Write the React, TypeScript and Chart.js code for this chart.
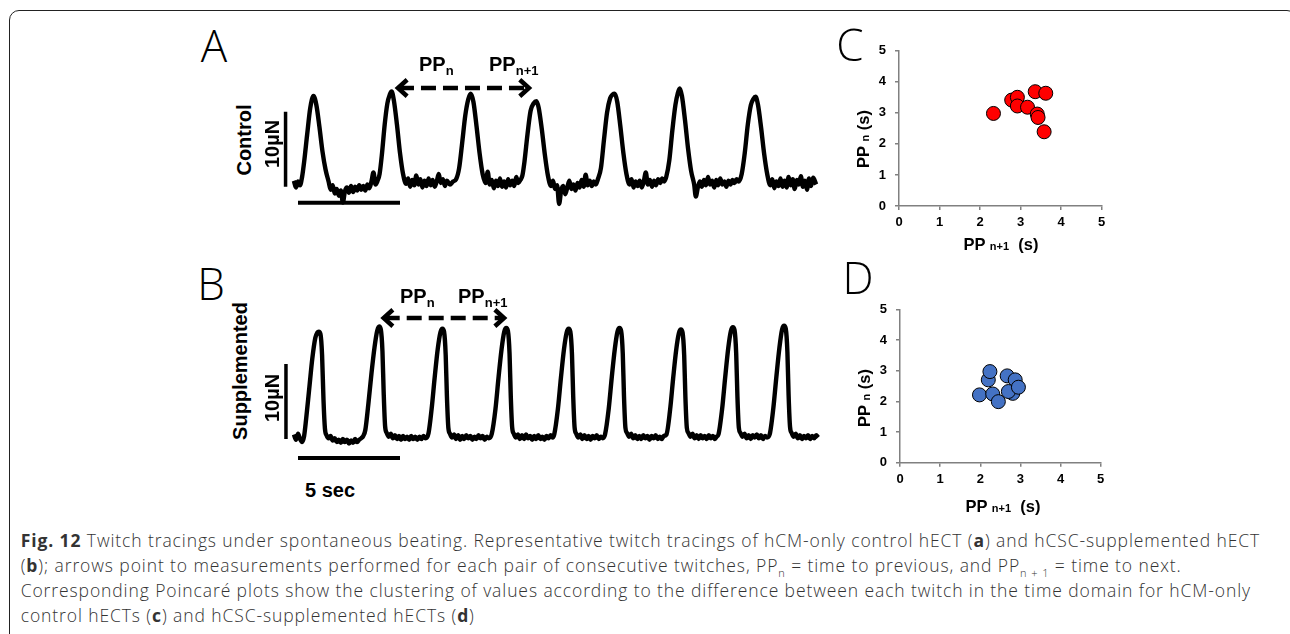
import React, { useEffect, useRef } from "react";
import { Chart, registerables } from "chart.js";
Chart.register(...registerables);

const SANS = "'Liberation Sans', Arial, Helvetica, sans-serif";
const CAPTION_FONT = "'Open Sans', 'Noto Sans', sans-serif";

// ---------- Data ----------
// Panel A: control hECT twitch trace, [time (s), force (µN)]
const controlTrace: [number, number][] = [
  [-0.2,0.3],[-0.1,-0.6],[0.0,0.2],[0.1,-0.3],[0.2,0.8],[0.3,2.8],[0.45,6.5],[0.6,10.0],[0.76,11.6],[0.9,10.4],[1.05,7.5],[1.2,4.2],[1.35,1.8],[1.5,0.2],[1.6,-0.9],[1.7,-0.3],[1.8,-1.4],[1.9,-0.8],[2.0,-1.7],[2.1,-1.0],[2.2,-2.6],[2.3,-1.1],[2.4,-0.6],[2.5,-1.3],[2.6,-0.4],[2.7,-1.2],[2.8,-0.5],[2.9,-1.0],[3.0,-0.3],[3.1,-0.9],[3.2,-0.4],[3.3,-1.0],[3.4,-0.2],[3.5,-0.7],[3.6,0.2],[3.7,1.4],[3.8,-0.2],[3.9,0.3],[4.0,1.2],[4.12,4.0],[4.25,7.8],[4.38,10.6],[4.5,11.8],[4.59,12.2],[4.7,11.0],[4.85,7.8],[5.0,4.0],[5.15,1.2],[5.3,-0.1],[5.4,0.6],[5.5,-0.5],[5.6,0.4],[5.7,-0.3],[5.8,1.0],[5.9,-0.2],[6.0,0.5],[6.1,-0.6],[6.2,0.3],[6.3,-0.4],[6.4,0.6],[6.5,-0.3],[6.6,0.4],[6.7,-0.5],[6.8,0.2],[6.9,1.2],[7.0,0.0],[7.1,0.5],[7.2,-0.4],[7.3,0.3],[7.45,-0.2],[7.6,0.2],[7.75,0.5],[7.9,2.0],[8.05,5.4],[8.2,9.0],[8.35,11.2],[8.47,11.9],[8.6,10.8],[8.75,7.6],[8.9,4.0],[9.05,1.2],[9.2,0.0],[9.3,1.5],[9.4,-0.2],[9.5,0.4],[9.6,-0.7],[9.7,0.3],[9.8,-0.4],[9.9,0.6],[10.0,-0.5],[10.1,0.2],[10.2,-0.6],[10.3,0.5],[10.4,-0.3],[10.5,0.3],[10.6,-0.4],[10.7,0.8],[10.8,0.0],[10.9,0.4],[11.0,1.0],[11.1,2.8],[11.25,6.5],[11.4,9.6],[11.55,10.6],[11.69,10.9],[11.8,10.0],[11.95,7.2],[12.1,3.8],[12.25,1.0],[12.4,-0.4],[12.5,0.3],[12.6,-0.8],[12.7,-0.3],[12.8,-2.8],[12.9,-1.0],[13.0,-0.4],[13.1,-1.5],[13.2,-0.6],[13.3,0.3],[13.4,-0.8],[13.5,-0.2],[13.6,-1.0],[13.7,0.0],[13.8,-0.6],[13.9,0.4],[14.0,-0.5],[14.1,1.1],[14.2,-0.3],[14.3,0.3],[14.4,-0.4],[14.5,0.2],[14.6,-0.2],[14.7,0.5],[14.85,2.0],[15.0,5.8],[15.15,9.4],[15.3,11.3],[15.42,11.8],[15.53,11.9],[15.65,10.8],[15.8,7.6],[15.95,4.0],[16.1,1.2],[16.25,-0.2],[16.35,0.5],[16.45,-0.6],[16.55,0.2],[16.65,-0.4],[16.75,0.3],[16.85,-0.6],[16.95,0.2],[17.05,1.4],[17.15,-0.2],[17.25,0.4],[17.35,-0.5],[17.45,0.3],[17.55,-0.3],[17.65,0.5],[17.75,0.0],[17.85,0.6],[17.95,0.2],[18.05,0.8],[18.2,3.0],[18.35,7.0],[18.5,10.4],[18.62,12.0],[18.71,12.6],[18.82,11.6],[18.97,8.4],[19.12,4.6],[19.27,1.6],[19.42,-0.2],[19.5,-1.8],[19.6,-0.6],[19.7,0.2],[19.8,-0.5],[19.9,0.4],[20.0,-0.3],[20.1,0.8],[20.2,-0.2],[20.3,0.3],[20.4,-0.6],[20.5,0.4],[20.6,-0.3],[20.7,0.6],[20.8,-0.2],[20.9,0.2],[21.0,-0.5],[21.1,0.3],[21.2,-0.2],[21.3,0.4],[21.4,0.0],[21.5,0.5],[21.6,0.2],[21.75,1.2],[21.9,4.0],[22.05,7.8],[22.2,10.4],[22.32,11.2],[22.43,11.5],[22.55,10.4],[22.7,7.4],[22.85,3.9],[23.0,1.2],[23.15,-0.3],[23.25,0.5],[23.35,-0.7],[23.45,0.2],[23.55,-0.4],[23.65,0.6],[23.75,-0.5],[23.85,0.3],[23.95,-0.6],[24.05,0.8],[24.15,-0.3],[24.25,0.5],[24.35,-0.8],[24.45,0.4],[24.55,-0.2],[24.65,0.9],[24.75,-0.5],[24.85,0.3],[24.95,-0.9],[25.05,0.6],[25.15,-0.4],[25.25,0.7],[25.4,-0.2]
];

// Panel B: hCSC-supplemented hECT twitch trace, [time (s), force (µN)]
const supplementedTrace: [number, number][] = [
  [-0.2,0.4],[-0.1,-0.3],[0.0,0.5],[0.1,-0.2],[0.2,-0.6],[0.3,0.2],[0.4,2.5],[0.55,6.5],[0.7,10.5],[0.85,13.3],[0.95,14.0],[1.02,14.1],[1.1,13.8],[1.18,11.0],[1.25,5.0],[1.32,1.2],[1.4,0.3],[1.5,-0.1],[1.6,0.2],[1.7,-0.4],[1.8,-0.1],[1.9,-0.6],[2.0,-0.3],[2.1,-0.7],[2.2,-0.2],[2.3,-0.6],[2.4,-0.3],[2.5,-0.8],[2.6,-0.4],[2.7,-0.7],[2.8,-0.2],[2.9,-0.6],[3.0,-0.3],[3.1,-0.1],[3.2,0.2],[3.3,1.0],[3.45,4.5],[3.6,8.5],[3.75,12.0],[3.88,14.2],[3.98,14.8],[4.06,14.4],[4.14,11.5],[4.2,6.0],[4.27,1.5],[4.35,0.6],[4.45,0.1],[4.55,0.5],[4.65,-0.1],[4.75,0.3],[4.85,-0.2],[4.95,0.2],[5.05,-0.3],[5.15,0.2],[5.25,-0.2],[5.35,0.1],[5.45,-0.3],[5.55,0.2],[5.65,-0.2],[5.75,0.1],[5.85,-0.3],[5.95,0.1],[6.05,-0.2],[6.15,0.2],[6.25,-0.1],[6.4,0.6],[6.55,3.8],[6.7,8.0],[6.85,11.8],[6.98,14.0],[7.08,14.5],[7.16,14.1],[7.24,11.0],[7.3,5.5],[7.37,1.3],[7.45,0.5],[7.55,0.0],[7.65,0.4],[7.75,-0.2],[7.85,0.3],[7.95,-0.3],[8.05,0.2],[8.15,-0.2],[8.25,0.3],[8.35,-0.1],[8.45,0.2],[8.55,-0.3],[8.65,0.1],[8.75,-0.2],[8.85,0.3],[8.95,-0.1],[9.05,0.2],[9.15,-0.3],[9.25,0.1],[9.35,-0.1],[9.5,0.5],[9.68,3.8],[9.83,8.0],[9.98,11.8],[10.11,14.1],[10.21,14.6],[10.29,14.2],[10.37,11.2],[10.43,5.5],[10.5,1.3],[10.58,0.5],[10.68,0.0],[10.78,0.4],[10.88,-0.2],[10.98,0.3],[11.08,-0.2],[11.18,0.4],[11.28,-0.1],[11.38,0.2],[11.48,-0.3],[11.58,0.2],[11.68,-0.2],[11.78,0.3],[11.88,-0.2],[11.98,0.1],[12.08,-0.3],[12.18,0.2],[12.28,-0.1],[12.38,0.3],[12.48,0.0],[12.56,0.4],[12.74,3.8],[12.89,8.0],[13.04,11.8],[13.17,14.0],[13.27,14.5],[13.35,14.1],[13.43,11.1],[13.49,5.5],[13.56,1.3],[13.64,0.5],[13.74,0.0],[13.84,0.4],[13.94,-0.2],[14.04,0.3],[14.14,-0.2],[14.24,0.2],[14.34,-0.3],[14.44,0.2],[14.54,-0.1],[14.64,0.3],[14.74,-0.2],[14.84,0.1],[14.94,-0.1],[15.05,0.4],[15.23,3.8],[15.38,8.0],[15.53,11.8],[15.66,14.1],[15.76,14.6],[15.84,14.2],[15.92,11.2],[15.98,5.5],[16.05,1.3],[16.13,0.6],[16.23,0.1],[16.33,0.5],[16.43,-0.1],[16.53,0.3],[16.63,-0.2],[16.73,0.2],[16.83,-0.2],[16.93,0.3],[17.03,-0.1],[17.13,0.2],[17.23,-0.3],[17.33,0.2],[17.43,-0.1],[17.53,0.3],[17.63,-0.2],[17.73,0.1],[17.83,-0.2],[17.93,0.2],[18.06,0.4],[18.24,3.7],[18.39,7.9],[18.54,11.7],[18.67,13.9],[18.77,14.4],[18.85,14.0],[18.93,11.0],[18.99,5.4],[19.06,1.3],[19.14,0.6],[19.24,0.1],[19.34,0.5],[19.44,-0.1],[19.54,0.3],[19.64,-0.2],[19.74,0.3],[19.84,-0.1],[19.94,0.2],[20.04,-0.2],[20.14,0.3],[20.24,-0.1],[20.34,0.2],[20.44,-0.2],[20.52,0.1],[20.61,0.4],[20.79,3.8],[20.94,8.0],[21.09,11.9],[21.22,14.2],[21.32,14.7],[21.4,14.3],[21.48,11.2],[21.54,5.5],[21.61,1.3],[21.69,0.6],[21.79,0.1],[21.89,0.5],[21.99,-0.1],[22.09,0.3],[22.19,-0.2],[22.29,0.3],[22.39,0.0],[22.49,0.4],[22.59,-0.1],[22.69,0.3],[22.79,-0.2],[22.89,0.2],[22.99,0.0],[23.12,0.4],[23.3,3.9],[23.45,8.1],[23.6,12.0],[23.73,14.4],[23.83,14.9],[23.91,14.5],[23.99,11.4],[24.05,5.6],[24.12,1.4],[24.2,0.6],[24.3,0.1],[24.4,0.5],[24.5,-0.1],[24.6,0.3],[24.7,-0.2],[24.8,0.2],[24.9,-0.1],[25.0,0.3],[25.1,-0.2],[25.2,0.2],[25.3,-0.1],[25.4,0.3],[25.5,0.0]
];

// PPn / PPn+1 arrows (time span, s) and their level (µN)
const controlArrow = [4.9, 11.32];
const controlArrowLevel = 12.67;
const supplementedArrow = [4.2, 10.1];
const supplementedArrowLevel = 15.93;

// Scale bars
const scaleBarForce = 10; // µN
const scaleBarTime = 5; // s

// Panel C: Poincaré plot, control (s)
const controlPPnext = [2.33, 2.78, 2.92, 2.92, 3.17, 3.36, 3.62, 3.41, 3.43, 3.58];
const controlPPn = [2.98, 3.41, 3.5, 3.22, 3.18, 3.68, 3.63, 2.96, 2.85, 2.39];

// Panel D: Poincaré plot, supplemented (s)
const suppPPnext = [1.98, 2.2, 2.24, 2.31, 2.45, 2.67, 2.87, 2.81, 2.7, 2.95];
const suppPPn = [2.21, 2.7, 2.97, 2.24, 1.99, 2.83, 2.7, 2.26, 2.32, 2.46];

const poincareTicks = [0, 1, 2, 3, 4, 5];

// ---------- Chart configs ----------
function traceConfig(
  trace: [number, number][],
  g: { xMin: number; xMax: number; yMin: number; yMax: number; vBarT: number; vBarF0: number; hBarF: number },
  arrow: number[],
  arrowLevel: number
): any {
  const line = (pts: { x: number; y: number }[], extra: any = {}) => ({
    data: pts,
    borderColor: "#000",
    borderWidth: 4,
    pointRadius: 0,
    fill: false,
    clip: false,
    ...extra,
  });
  const chevW = 0.45;
  const chevH = 1.1;
  return {
    type: "line",
    data: {
      datasets: [
        line(trace.map(([x, y]) => ({ x, y })), { borderWidth: 4.4, cubicInterpolationMode: "monotone", borderJoinStyle: "round" }),
        line([{ x: g.vBarT, y: g.vBarF0 }, { x: g.vBarT, y: g.vBarF0 + scaleBarForce }], { borderWidth: 3.5 }),
        line([{ x: 0, y: g.hBarF }, { x: scaleBarTime, y: g.hBarF }], { borderWidth: 4 }),
        line([{ x: arrow[0] + 0.05, y: arrowLevel }, { x: arrow[1] - 0.05, y: arrowLevel }], { borderWidth: 4.5, borderDash: [15, 7] }),
        line([{ x: arrow[0] + chevW, y: arrowLevel + chevH }, { x: arrow[0], y: arrowLevel }, { x: arrow[0] + chevW, y: arrowLevel - chevH }], { borderWidth: 4.5, borderJoinStyle: "miter" }),
        line([{ x: arrow[1] - chevW, y: arrowLevel + chevH }, { x: arrow[1], y: arrowLevel }, { x: arrow[1] - chevW, y: arrowLevel - chevH }], { borderWidth: 4.5, borderJoinStyle: "miter" }),
      ],
    },
    options: {
      responsive: false,
      animation: false,
      devicePixelRatio: 1,
      layout: { padding: 0 },
      plugins: { legend: { display: false }, tooltip: { enabled: false } },
      scales: {
        x: { type: "linear", min: g.xMin, max: g.xMax, display: false },
        y: { type: "linear", min: g.yMin, max: g.yMax, display: false },
      },
    },
  };
}

function scatterConfig(xs: number[], ys: number[], color: string, g: { yAxisW: number; xAxisH: number; padTop: number; padRight: number }): any {
  const tickFont = { family: SANS, size: 13, weight: "bold" as const };
  const axis = (isX: boolean) => ({
    type: "linear",
    min: 0,
    max: 5,
    afterBuildTicks: (s: any) => {
      s.ticks = poincareTicks.map((v) => ({ value: v }));
    },
    ticks: { font: tickFont, color: "#000", padding: isX ? 5 : 9, autoSkip: false, maxRotation: 0 },
    grid: { drawOnChartArea: false, drawTicks: true, tickLength: 4, color: "#808080", lineWidth: 1.5 },
    border: { display: true, color: "#808080", width: 1.5 },
    afterFit: (s: any) => {
      if (isX) s.height = g.xAxisH;
      else s.width = g.yAxisW;
    },
  });
  return {
    type: "scatter",
    data: {
      datasets: [
        {
          data: xs.map((x, i) => ({ x, y: ys[i] })),
          backgroundColor: color,
          borderColor: "#000",
          borderWidth: 1,
          pointRadius: 7,
          pointHoverRadius: 7,
        },
      ],
    },
    options: {
      responsive: false,
      animation: false,
      devicePixelRatio: 1,
      layout: { padding: { top: g.padTop, right: g.padRight, bottom: 0, left: 0 } },
      plugins: { legend: { display: false }, tooltip: { enabled: false } },
      scales: { x: axis(true), y: axis(false) },
    },
  };
}

function ChartCanvas({ left, top, width, height, make }: { left: number; top: number; width: number; height: number; make: () => any }) {
  const ref = useRef<HTMLCanvasElement>(null);
  useEffect(() => {
    const chart = new Chart(ref.current as HTMLCanvasElement, make());
    return () => chart.destroy();
  }, []);
  return (
    <canvas
      ref={ref}
      width={width}
      height={height}
      style={{ position: "absolute", left, top, width, height, display: "block" }}
    />
  );
}

// ---------- Text helpers ----------
const Label = ({ cx, cy, size, rotate, children, weight = 700, family = SANS }: any) => (
  <div
    style={{
      position: "absolute",
      left: cx,
      top: cy,
      transform: `translate(-50%, -50%)${rotate ? " rotate(-90deg)" : ""}`,
      fontFamily: family,
      fontWeight: weight,
      fontSize: size,
      lineHeight: 1,
      whiteSpace: "nowrap",
      color: "#000",
    }}
  >
    {children}
  </div>
);

const PanelLetter = ({ cx, cy, children }: any) => (
  <Label cx={cx} cy={cy} size={44} weight={300} family={CAPTION_FONT}>
    {children}
  </Label>
);

const PP = ({ left, cy, sub }: any) => (
  <div
    style={{
      position: "absolute",
      left,
      top: cy,
      transform: "translateY(-50%)",
      fontFamily: SANS,
      fontWeight: 700,
      fontSize: 20,
      lineHeight: 1,
      whiteSpace: "nowrap",
    }}
  >
    PP<span style={{ fontSize: 13, position: "relative", top: 4 }}>{sub}</span>
  </div>
);

const AxisTitle = ({ cx, cy, sub, rotate }: any) => (
  <Label cx={cx} cy={cy} size={16.5} rotate={rotate}>
    PP <span style={{ fontSize: 11 }}>{sub}</span>
    {sub.length > 1 ? "\u00a0 " : " "}(s)
  </Label>
);

const Bd = ({ children }: any) => <span style={{ fontWeight: 700 }}>{children}</span>;

const captionLines: any[] = [
  <>
    <Bd>Fig. 12</Bd> Twitch tracings under spontaneous beating. Representative twitch tracings of hCM-only control hECT (<Bd>a</Bd>) and hCSC-supplemented hECT
  </>,
  <>
    (<Bd>b</Bd>); arrows point to measurements performed for each pair of consecutive twitches, PP<sub style={{ fontSize: 11 }}>n</sub> = time to previous, and PP
    <sub style={{ fontSize: 11 }}>n + 1</sub> = time to next.
  </>,
  <>Corresponding Poincaré plots show the clustering of values according to the difference between each twitch in the time domain for hCM-only</>,
  <>
    control hECTs (<Bd>c</Bd>) and hCSC-supplemented hECTs (<Bd>d</Bd>)
  </>,
];

export default function App() {
  const pxPerSec = 20.4;
  const t0x = 298;
  const traceLeft = 270;
  const traceW = 560;
  const xMin = (traceLeft - t0x) / pxPerSec;
  const xMax = (traceLeft + traceW - t0x) / pxPerSec;
  const pxPerUN = 7.5;

  const aTop = 60, aH = 160, aBase = 183;
  const bTop = 285, bH = 190, bBase = 437.5;

  return (
    <div style={{ position: "absolute", left: 0, top: 0, width: 1290, height: 634, overflow: "hidden", background: "#fff" }}>
      <div
        style={{
          position: "absolute",
          left: 9,
          top: 10,
          width: 1288,
          height: 700,
          border: "1.5px solid #222",
          borderRadius: 10,
          boxSizing: "border-box",
        }}
      />

      <ChartCanvas
        left={traceLeft}
        top={aTop}
        width={traceW}
        height={aH}
        make={() =>
          traceConfig(
            controlTrace,
            {
              xMin,
              xMax,
              yMax: (aBase - aTop) / pxPerUN,
              yMin: -(aTop + aH - aBase) / pxPerUN,
              vBarT: -0.61,
              vBarF0: -0.5,
              hBarF: -2.63,
            },
            controlArrow,
            controlArrowLevel
          )
        }
      />
      <ChartCanvas
        left={traceLeft}
        top={bTop}
        width={traceW}
        height={bH}
        make={() =>
          traceConfig(
            supplementedTrace,
            {
              xMin,
              xMax,
              yMax: (bBase - bTop) / pxPerUN,
              yMin: -(bTop + bH - bBase) / pxPerUN,
              vBarT: -0.59,
              vBarF0: -0.2,
              hBarF: -2.73,
            },
            supplementedArrow,
            supplementedArrowLevel
          )
        }
      />
      <ChartCanvas
        left={830}
        top={20}
        width={300}
        height={240}
        make={() => scatterConfig(controlPPnext, controlPPn, "#ff0000", { yAxisW: 69, xAxisH: 54, padTop: 30.7, padRight: 28.3 })}
      />
      <ChartCanvas
        left={830}
        top={285}
        width={300}
        height={240}
        make={() => scatterConfig(suppPPnext, suppPPn, "#4472c4", { yAxisW: 70, xAxisH: 62.3, padTop: 24.3, padRight: 29.3 })}
      />

      <PanelLetter cx={214} cy={45}>A</PanelLetter>
      <PanelLetter cx={211} cy={283}>B</PanelLetter>
      <PanelLetter cx={850} cy={44}>C</PanelLetter>
      <PanelLetter cx={858} cy={277}>D</PanelLetter>

      <Label cx={244} cy={140} size={20} rotate>Control</Label>
      <Label cx={272} cy={144} size={20} rotate>10µN</Label>
      <Label cx={240} cy={371} size={20} rotate>Supplemented</Label>
      <Label cx={272} cy={398} size={20} rotate>10µN</Label>
      <Label cx={330} cy={490} size={20}>5 sec</Label>

      <PP left={419} cy={64} sub="n" />
      <PP left={489} cy={64} sub="n+1" />
      <PP left={400} cy={296} sub="n" />
      <PP left={458} cy={296} sub="n+1" />

      <AxisTitle cx={863} cy={139} sub="n" rotate />
      <AxisTitle cx={1001} cy={244} sub="n+1" />
      <AxisTitle cx={864} cy={398} sub="n" rotate />
      <AxisTitle cx={1003} cy={506} sub="n+1" />

      {captionLines.map((ln, i) => (
        <div
          key={i}
          style={{
            position: "absolute",
            left: 20.7,
            top: 540 + i * 25 - 12.5,
            height: 25,
            lineHeight: "25px",
            fontFamily: CAPTION_FONT,
            fontWeight: 300,
            fontSize: 17.5,
            letterSpacing: 0.9,
            color: "#333",
            whiteSpace: "nowrap",
          }}
        >
          {ln}
        </div>
      ))}
    </div>
  );
}
